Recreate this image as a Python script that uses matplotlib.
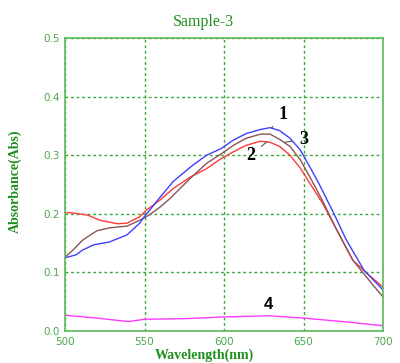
import matplotlib
matplotlib.use("Agg")
import matplotlib.pyplot as plt

# spectra (wavelength nm, absorbance)
wl_1 = [500, 507, 511, 518, 528, 539, 547, 549, 560, 568, 579, 589, 598, 606, 614, 623, 629, 635, 641.5, 648, 654, 660, 669, 677, 688, 700]
abs_1 = [0.125, 0.130, 0.138, 0.147, 0.152, 0.164, 0.184, 0.192, 0.229, 0.255, 0.280, 0.300, 0.311, 0.326, 0.337, 0.344, 0.347, 0.342, 0.329, 0.309, 0.280, 0.250, 0.201, 0.155, 0.104, 0.070]

wl_2 = [500, 503, 514, 522, 533, 539, 547, 551, 560, 568, 579, 589, 597.5, 606, 614, 623, 629, 635, 641.5, 648, 654, 662, 671, 681, 690, 700]
abs_2 = [0.202, 0.202, 0.198, 0.189, 0.183, 0.184, 0.195, 0.206, 0.224, 0.243, 0.263, 0.277, 0.293, 0.306, 0.317, 0.324, 0.322, 0.315, 0.300, 0.278, 0.252, 0.218, 0.172, 0.121, 0.098, 0.075]

wl_3 = [500, 505, 511, 520, 528, 539, 547, 553, 560, 566, 579, 589, 598, 606, 614, 623, 629, 635, 641.5, 648, 654, 662, 671, 681, 692, 700]
abs_3 = [0.126, 0.138, 0.155, 0.171, 0.176, 0.179, 0.189, 0.198, 0.212, 0.226, 0.261, 0.286, 0.302, 0.317, 0.329, 0.336, 0.336, 0.327, 0.315, 0.292, 0.263, 0.222, 0.172, 0.121, 0.084, 0.058]

wl_4 = [500, 520, 540, 550, 575, 600, 628, 650, 675, 700]
abs_4 = [0.027, 0.022, 0.016, 0.020, 0.021, 0.024, 0.026, 0.022, 0.016, 0.009]

colors = ["#3f3fff", "#ff3a3a", "#8a5656", "#ff3aff"]
green = "#1f8f1f"
light_green = "#4aa84a"

fig = plt.figure(figsize=(4.0, 3.63), dpi=100)
ax = fig.add_axes([0.1625, 0.0882, 0.795, 0.807])

ax.plot(wl_2, abs_2, color=colors[1], lw=1)
ax.plot(wl_3, abs_3, color=colors[2], lw=1)
ax.plot(wl_1, abs_1, color=colors[0], lw=1)
ax.plot(wl_4, abs_4, color=colors[3], lw=1)

ax.set_xlim(500, 700)
ax.set_ylim(0, 0.5)
ax.set_xticks([500, 550, 600, 650, 700])
ax.set_yticks([0.0, 0.1, 0.2, 0.3, 0.4, 0.5])
ax.set_yticklabels(["0.0", "0.1", "0.2", "0.3", "0.4", "0.5"])
ax.tick_params(length=0, labelsize=7.5, labelcolor=light_green, pad=4)
ax.grid(True, color="#33a833", linestyle=(0, (2, 2)), lw=1)
for s in ax.spines.values():
    s.set_color("#5cb85c")
    s.set_linewidth(1.2)

# curve labels with leader lines
lab = dict(fontsize=13, fontweight="bold", family="Liberation Serif", ha="center", va="center",
           arrowprops=dict(arrowstyle="-", color="#555555", lw=0.8, shrinkA=3, shrinkB=0))
ax.annotate("1", xy=(630, 0.347), xytext=(637, 0.369), **lab)
ax.annotate("2", xy=(627, 0.323), xytext=(617, 0.300), **lab)
ax.annotate("3", xy=(638, 0.322), xytext=(650, 0.327), **lab)
ax.text(628, 0.045, "4", fontsize=12, fontweight="bold", family="Liberation Sans",
        ha="center", va="center")

fig.text(0.508, 0.940, "Sample-3", color=green, fontsize=11.5,
         family="Liberation Serif", ha="center", va="center")
fig.text(0.51, 0.022, "Wavelength(nm)", color=green, fontsize=10, fontweight="bold",
         family="Liberation Serif", ha="center", va="center")
fig.text(0.038, 0.5, "Absorbance(Abs)", color=green, fontsize=10, fontweight="bold",
         family="Liberation Serif", ha="center", va="center", rotation=90)

fig.savefig("out.png", dpi=100, facecolor="white")
